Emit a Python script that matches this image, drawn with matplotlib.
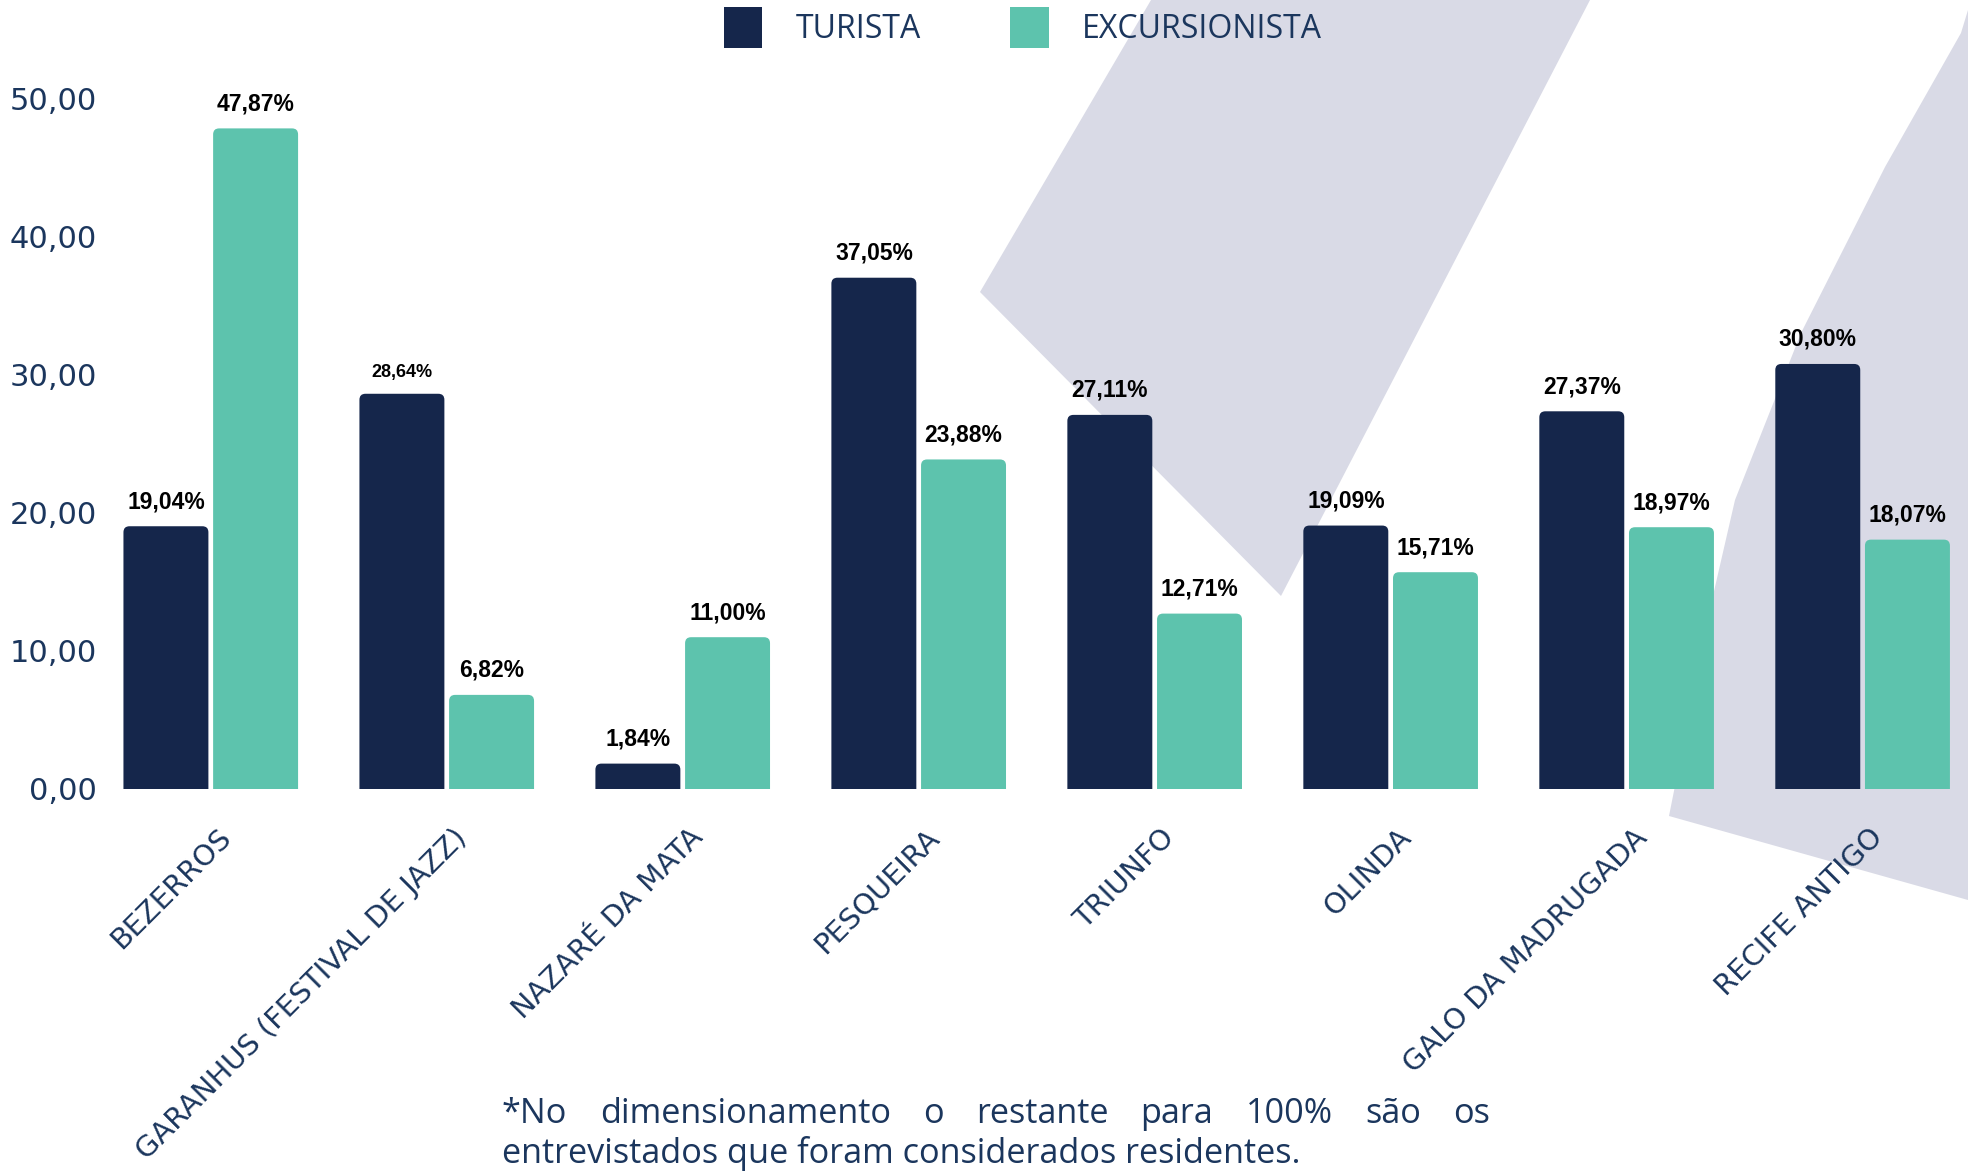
import numpy as np
import matplotlib
matplotlib.use("Agg")
import matplotlib.pyplot as plt
from matplotlib.patches import FancyBboxPatch, Polygon, Patch
from matplotlib.transforms import ScaledTranslation

# ---------------- data ----------------
categories = ["BEZERROS", "GARANHUS (FESTIVAL DE JAZZ)", "NAZARÉ DA MATA", "PESQUEIRA",
              "TRIUNFO", "OLINDA", "GALO DA MADRUGADA", "RECIFE ANTIGO"]
turista = [19.04, 28.64, 1.84, 37.05, 27.11, 19.09, 27.37, 30.80]
excursionista = [47.87, 6.82, 11.00, 23.88, 12.71, 15.71, 18.97, 18.07]
yticks = [0, 10, 20, 30, 40, 50]
series_names = ["TURISTA", "EXCURSIONISTA"]
footnote_line1 = "*No dimensionamento o restante para 100% são os"
footnote_line2 = "entrevistados que foram considerados residentes."

# ---------------- style ----------------
W, H, DPI = 1968, 1172, 100
NAVY = '#15264B'
TEAL = '#5DC3AD'
TEXT = '#1B365D'
LAV = '#D9DAE6'

fig = plt.figure(figsize=(W / DPI, H / DPI), dpi=DPI)
fig.patch.set_facecolor('white')


def fpx(x, y):
    return (x / W, 1 - y / H)


# decorative background shapes
shape1 = [(980, 292), (1151, 0), (1590, 0), (1281, 596)]
shape2 = [(1968, 10), (1961, 33), (1885, 167), (1801, 333), (1735, 500),
          (1712, 600), (1669, 816), (1968, 900)]
for pts in (shape1, shape2):
    fig.add_artist(Polygon([fpx(*p) for p in pts], closed=True, transform=fig.transFigure,
                           facecolor=LAV, edgecolor='none', zorder=-5))

# axes geometry
ax_left_px, ax_right_px = 110, 1957
ax_bottom_px = 789
ymax = 52
px_per_y = 13.8
ax = fig.add_axes([ax_left_px / W, (H - ax_bottom_px) / H,
                   (ax_right_px - ax_left_px) / W, ymax * px_per_y / H])
ax.set_facecolor('none')
xlim = (-0.427, 7.4)
ax.set_xlim(*xlim)
ax.set_ylim(0, ymax)

x = np.arange(len(categories))
bw = 0.36
off = 0.19
b1 = ax.bar(x - off, turista, bw, color=NAVY, label=series_names[0])
b2 = ax.bar(x + off, excursionista, bw, color=TEAL, label=series_names[1])

px_per_x = (ax_right_px - ax_left_px) / (xlim[1] - xlim[0])
r = 6 / px_per_x
asp = px_per_x / px_per_y
for rect in list(b1.patches) + list(b2.patches):
    rx, rw, rh = rect.get_x(), rect.get_width(), rect.get_height()
    pad = r * asp
    fb = FancyBboxPatch((rx, -pad), rw, rh + pad,
                        boxstyle=f"round,pad=0,rounding_size={r}",
                        mutation_aspect=asp, facecolor=rect.get_facecolor(),
                        edgecolor='none', zorder=2)
    ax.add_patch(fb)
    rect.set_visible(False)

# value labels
small_labels = {("t", 1)}
for key, bars, vals in (("t", b1, turista), ("e", b2, excursionista)):
    for i, (rect, v) in enumerate(zip(bars.patches, vals)):
        cx = rect.get_x() + rect.get_width() / 2
        fs = 13 if (key, i) in small_labels else 16.5
        ax.annotate(f"{v:.2f}%".replace('.', ','), xy=(cx, v), xytext=(0, 13),
                    textcoords='offset pixels', ha='center', va='bottom',
                    fontsize=fs, fontweight='bold', family='Liberation Sans',
                    color='black', annotation_clip=False)

# axes styling
for s in ax.spines.values():
    s.set_visible(False)
ax.set_yticks(yticks)
ax.set_yticklabels([f"{v:.2f}".replace('.', ',') for v in yticks],
                   fontsize=22, family='DejaVu Sans', color=TEXT)
ax.tick_params(axis='y', length=0, pad=9.4)
ax.set_xticks(x)
ax.set_xticklabels(categories, rotation=45, ha='right', va='center',
                   rotation_mode='anchor', fontsize=20.8, family='DejaVu Sans', color=TEXT)
ax.tick_params(axis='x', length=0, pad=32)
shift = ScaledTranslation(16 / DPI, 0, fig.dpi_scale_trans)
for lbl in ax.get_xticklabels():
    lbl.set_transform(lbl.get_transform() + shift)

# legend
handles = [Patch(facecolor=NAVY), Patch(facecolor=TEAL)]
fig.legend(handles, series_names, loc='center', bbox_to_anchor=(1023 / W, 1 - 27.5 / H),
           ncol=2, frameon=False, prop={'family': 'Open Sans', 'size': 23},
           handlelength=1.2, handleheight=1.55, handletextpad=1.05, columnspacing=2.8,
           labelcolor=TEXT)

# footnote (justified first line)
renderer = fig.canvas.get_renderer()
fn_props = dict(fontsize=24.7, family='Open Sans', color=TEXT)
words = footnote_line1.split(' ')
wtexts = [fig.text(0, 0, w_, va='baseline', **fn_props) for w_ in words]
widths = [t.get_window_extent(renderer).width for t in wtexts]
x0, x1 = 502, 1490
gap = (x1 - x0 - sum(widths)) / (len(words) - 1)
cur = x0
for t, wd in zip(wtexts, widths):
    t.set_position(fpx(cur, 1123))
    cur += wd + gap
fig.text(*fpx(502, 1163), footnote_line2, va='baseline', **fn_props)

fig.savefig('out.png', dpi=DPI)
